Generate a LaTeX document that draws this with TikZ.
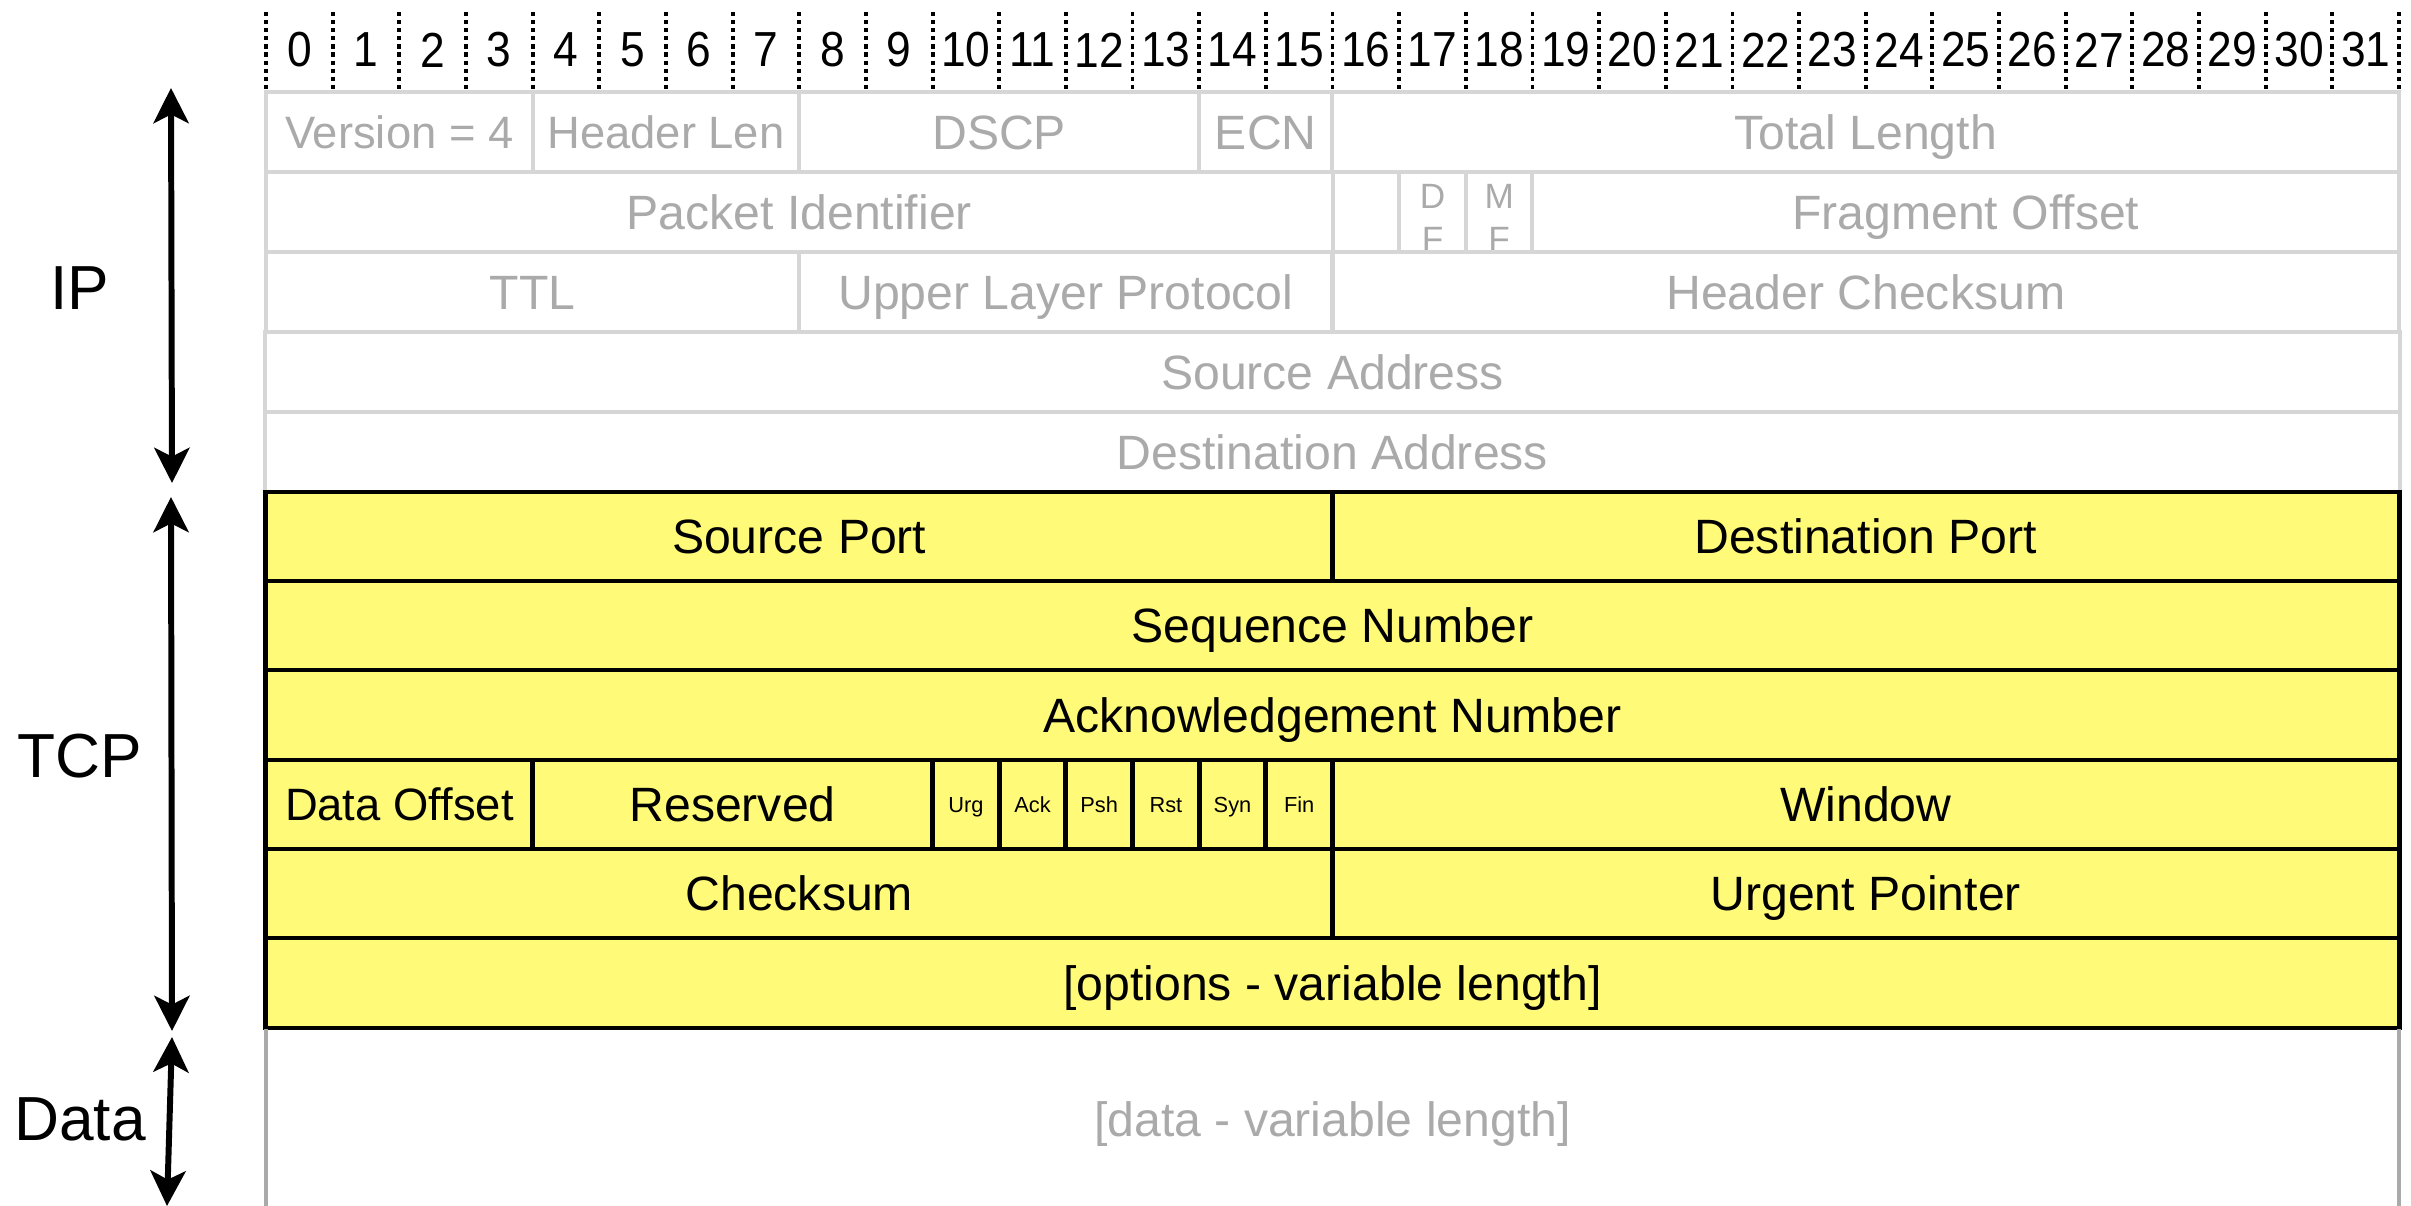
\documentclass[tikz,border=0pt]{standalone}
\usepackage{fontspec}
\setmainfont{Liberation Sans}
\usetikzlibrary{arrows.meta}
\definecolor{ipline}{HTML}{D6D6D6}
\definecolor{iptext}{HTML}{AAAAAA}
\definecolor{tcpfill}{HTML}{FFFA78}
\definecolor{dataline}{HTML}{AAAAAA}
\newcommand\fieldcell[7]{%
  \pgfmathsetmacro\fcX{266+(#3+#4)/2*66.656}%
  \pgfmathsetmacro\fcY{(#5+#6)/2}%
  \pgfmathsetmacro\fcW{(#4-#3)*0.66656}%
  \pgfmathsetmacro\fcH{(#6-#5)*0.01}%
  \node[#2, minimum width=\fcW cm, minimum height=\fcH cm] (#1) at (\fcX,\fcY) {#7};%
}
\tikzset{
  celltext/.style={font=\fontsize{13.7}{16}\selectfont, text height=11.8pt, text depth=2pt},
  smalltext/.style={font=\fontsize{12.9}{15}\selectfont, text height=11.3pt, text depth=2pt},
  ipcell/.style={draw=ipline, line width=1.1pt, text=iptext, celltext, inner sep=0pt, outer sep=0pt},
  tcpcell/.style={draw=black, fill=tcpfill, line width=1.4pt, text=black, celltext, inner sep=0pt, outer sep=0pt},
  flagcell/.style={tcpcell, font=\fontsize{6.2}{7}\selectfont, text height=5.4pt, text depth=1pt},
  bitsep/.style={line width=1.1pt, dash pattern=on 1.2pt off 1.1pt},
  bitnum/.style={inner sep=0pt, font=\fontsize{14}{16}\selectfont, xscale=0.9, transform shape},
  sidelabel/.style={inner sep=0pt, font=\fontsize{17.7}{20}\selectfont},
  sidearrow/.style={line width=1.7pt, {Stealth[length=10pt,width=10pt,inset=2.5pt]}-{Stealth[length=10pt,width=10pt,inset=2.5pt]}},
  flagtext/.style={inner sep=0pt, text=iptext, align=center, font=\fontsize{10}{12.2}\selectfont}
}
\begin{document}
\begin{tikzpicture}[x=0.01cm, y=-0.01cm]
\useasboundingbox (0,0) rectangle (2411,1206);
% bit numbers
\foreach \k in {0,...,32} {
  \coordinate (st\k) at ({266+\k*66.656},12);
  \coordinate (sb\k) at ({266+\k*66.656},92);
  \draw[bitsep] (st\k) -- (sb\k);
}
\foreach \k in {0,...,31} {
  \node[bitnum] (b\k) at ({266+(\k+0.5)*66.656},50) {\k};
}
% IP header
\fieldcell{ver}{ipcell,smalltext}{0}{4}{92}{172}{Version = 4}
\fieldcell{hlen}{ipcell,smalltext}{4}{8}{92}{172}{Header Len}
\fieldcell{dscp}{ipcell}{8}{14}{92}{172}{DSCP}
\fieldcell{ecn}{ipcell}{14}{16}{92}{172}{ECN}
\fieldcell{tlen}{ipcell}{16}{32}{92}{172}{Total Length}
\fieldcell{pid}{ipcell}{0}{16}{172}{252}{Packet Identifier}
\fieldcell{rsvbit}{ipcell}{16}{17}{172}{252}{}
\fieldcell{df}{ipcell}{17}{18}{172}{252}{}
\fieldcell{mf}{ipcell}{18}{19}{172}{252}{}
\fieldcell{foff}{ipcell}{19}{32}{172}{252}{Fragment Offset}
\begin{scope}
  \clip ({266+17*66.656},174) rectangle ({266+19*66.656},250);
  \node[flagtext] (dftext) at ({266+17.5*66.656},218) {D\\F};
  \node[flagtext] (mftext) at ({266+18.5*66.656},218) {M\\F};
\end{scope}
\fieldcell{ttl}{ipcell}{0}{8}{252}{332}{TTL}
\fieldcell{ulp}{ipcell}{8}{16}{252}{332}{Upper Layer Protocol}
\fieldcell{hcs}{ipcell}{16}{32}{252}{332}{Header Checksum}
\fieldcell{src}{ipcell}{0}{32}{332}{412}{Source Address}
\fieldcell{dst}{ipcell}{0}{32}{412}{492}{Destination Address}
% TCP header
\fieldcell{sport}{tcpcell}{0}{16}{492}{581}{Source Port}
\fieldcell{dport}{tcpcell}{16}{32}{492}{581}{Destination Port}
\fieldcell{seq}{tcpcell}{0}{32}{581}{670}{Sequence Number}
\fieldcell{ackn}{tcpcell}{0}{32}{670}{760}{Acknowledgement Number}
\fieldcell{doff}{tcpcell,smalltext}{0}{4}{760}{849}{Data Offset}
\fieldcell{resv}{tcpcell}{4}{10}{760}{849}{Reserved}
\fieldcell{urg}{flagcell}{10}{11}{760}{849}{Urg}
\fieldcell{ackf}{flagcell}{11}{12}{760}{849}{Ack}
\fieldcell{psh}{flagcell}{12}{13}{760}{849}{Psh}
\fieldcell{rst}{flagcell}{13}{14}{760}{849}{Rst}
\fieldcell{syn}{flagcell}{14}{15}{760}{849}{Syn}
\fieldcell{fin}{flagcell}{15}{16}{760}{849}{Fin}
\fieldcell{win}{tcpcell}{16}{32}{760}{849}{Window}
\fieldcell{cks}{tcpcell}{0}{16}{849}{938}{Checksum}
\fieldcell{urgp}{tcpcell}{16}{32}{849}{938}{Urgent Pointer}
\fieldcell{opt}{tcpcell}{0}{32}{938}{1028}{[options - variable length]}
% data
\node[inner sep=0pt, outer sep=0pt, celltext, text=iptext] (data) at (1332.5,1119) {[data - variable length]};
\coordinate (dl1) at (266,1029);
\coordinate (dl2) at (266,1206);
\coordinate (dr1) at (2399,1029);
\coordinate (dr2) at (2399,1206);
\draw[dataline, line width=1.1pt] (dl1) -- (dl2);
\draw[dataline, line width=1.1pt] (dr1) -- (dr2);
% side arrows and labels
\coordinate (ipTop) at (171,88);
\coordinate (ipBot) at (172,483);
\coordinate (tcpTop) at (171,497);
\coordinate (tcpBot) at (172,1031);
\coordinate (dataTop) at (172,1037);
\coordinate (dataBot) at (167,1206);
\draw[sidearrow] (ipTop) -- (ipBot);
\draw[sidearrow] (tcpTop) -- (tcpBot);
\draw[sidearrow] (dataTop) -- (dataBot);
\node[sidelabel] (lblIP) at (80,288) {IP};
\node[sidelabel] (lblTCP) at (80,756) {TCP};
\node[sidelabel] (lblData) at (80,1119) {Data};
\end{tikzpicture}
\end{document}
